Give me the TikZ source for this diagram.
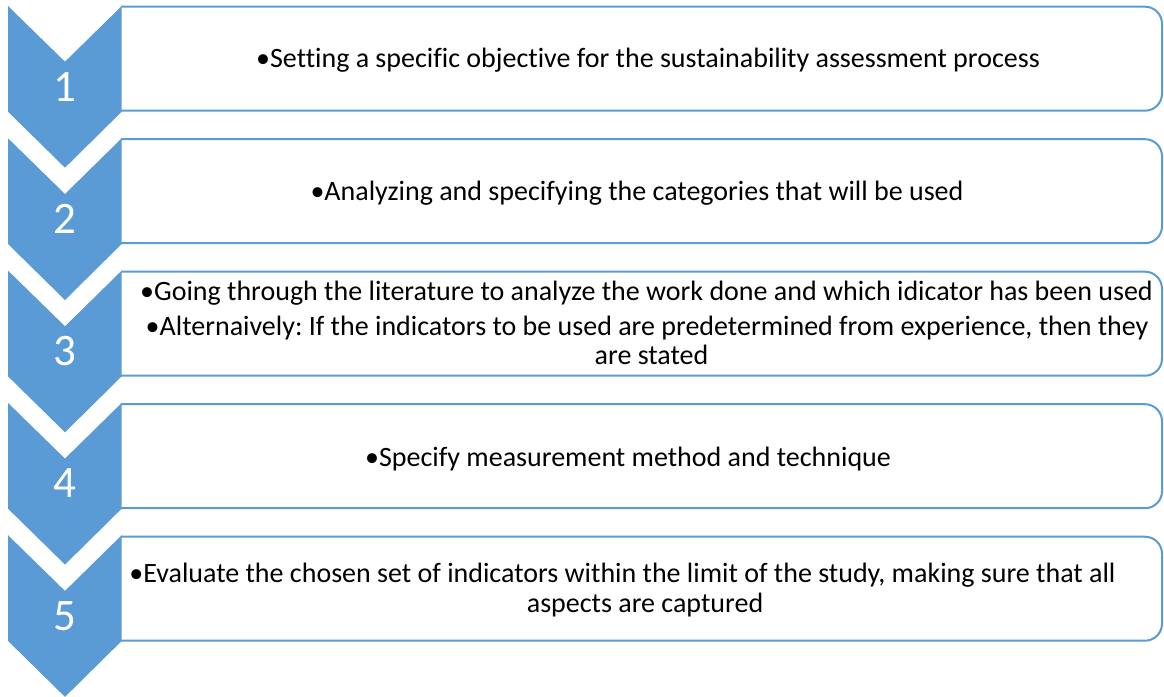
\documentclass[tikz,border=0pt]{standalone}
\usepackage{fontspec}
\setmainfont{Carlito}[Ligatures=NoCommon]
\frenchspacing
\definecolor{accent}{HTML}{5B9BD5}
\begin{document}
\begin{tikzpicture}[x=1pt,y=-1pt,
  chevron/.style={fill=accent,draw=none},
  stepbox/.style={draw=accent,line width=2pt,fill=white,rounded corners=17pt},
  num/.style={text=white,font=\fontsize{45}{50}\selectfont,anchor=base,inner sep=0pt},
  txt/.style={text=black,font=\fontsize{28}{30}\selectfont,anchor=base,inner sep=0pt}]
\useasboundingbox (0,0) rectangle (1164,696);
% boxes first (open path: only the right corners are rounded)
\foreach \i in {0,...,4}{
  \pgfmathsetmacro{\b}{6.7+132.5*\i}
  \draw[stepbox] (121,\b) -- (1162,\b) -- (1162,\b+104) -- (121,\b+104);
}
% chevrons on top
\foreach \i in {0,...,4}{
  \pgfmathsetmacro{\t}{6+132.3*\i}
  \fill[chevron] (8,\t) -- (65,\t+55.7) -- (121.7,\t) -- (121.7,\t+105.7)
     -- (65,\t+161.7) -- (8,\t+105.7) -- cycle;
}
% step numbers
\node[num] (n1) at (65,6+95) {1};
\node[num] (n2) at (65,138.3+95) {2};
\node[num] (n3) at (65,270.6+95) {3};
\node[num] (n4) at (65,402.9+95) {4};
\node[num] (n5) at (65,535.2+95) {5};
% step texts
\node[txt] (t1) at (648,58+9) {•Setting a specific objective for the sustainability assessment process};
\node[txt] (t2) at (637,191+9) {•Analyzing and specifying the categories that will be used};
\node[txt] (t3a) at (646.5,291.7+9) {•Going through the literature to analyze the work done and which idicator has been used};
\node[txt] (t3b) at (647,326.7+9) {•Alternaively: If the indicators to be used are predetermined from experience, then they};
\node[txt] (t3c) at (651.5,355+9) {are stated};
\node[txt] (t4) at (628,457+9) {•Specify measurement method and technique};
\node[txt] (t5a) at (622.5,573+9) {•Evaluate the chosen set of indicators within the limit of the study, making sure that all};
\node[txt] (t5b) at (645,603+9) {aspects are captured};
\end{tikzpicture}
\end{document}
